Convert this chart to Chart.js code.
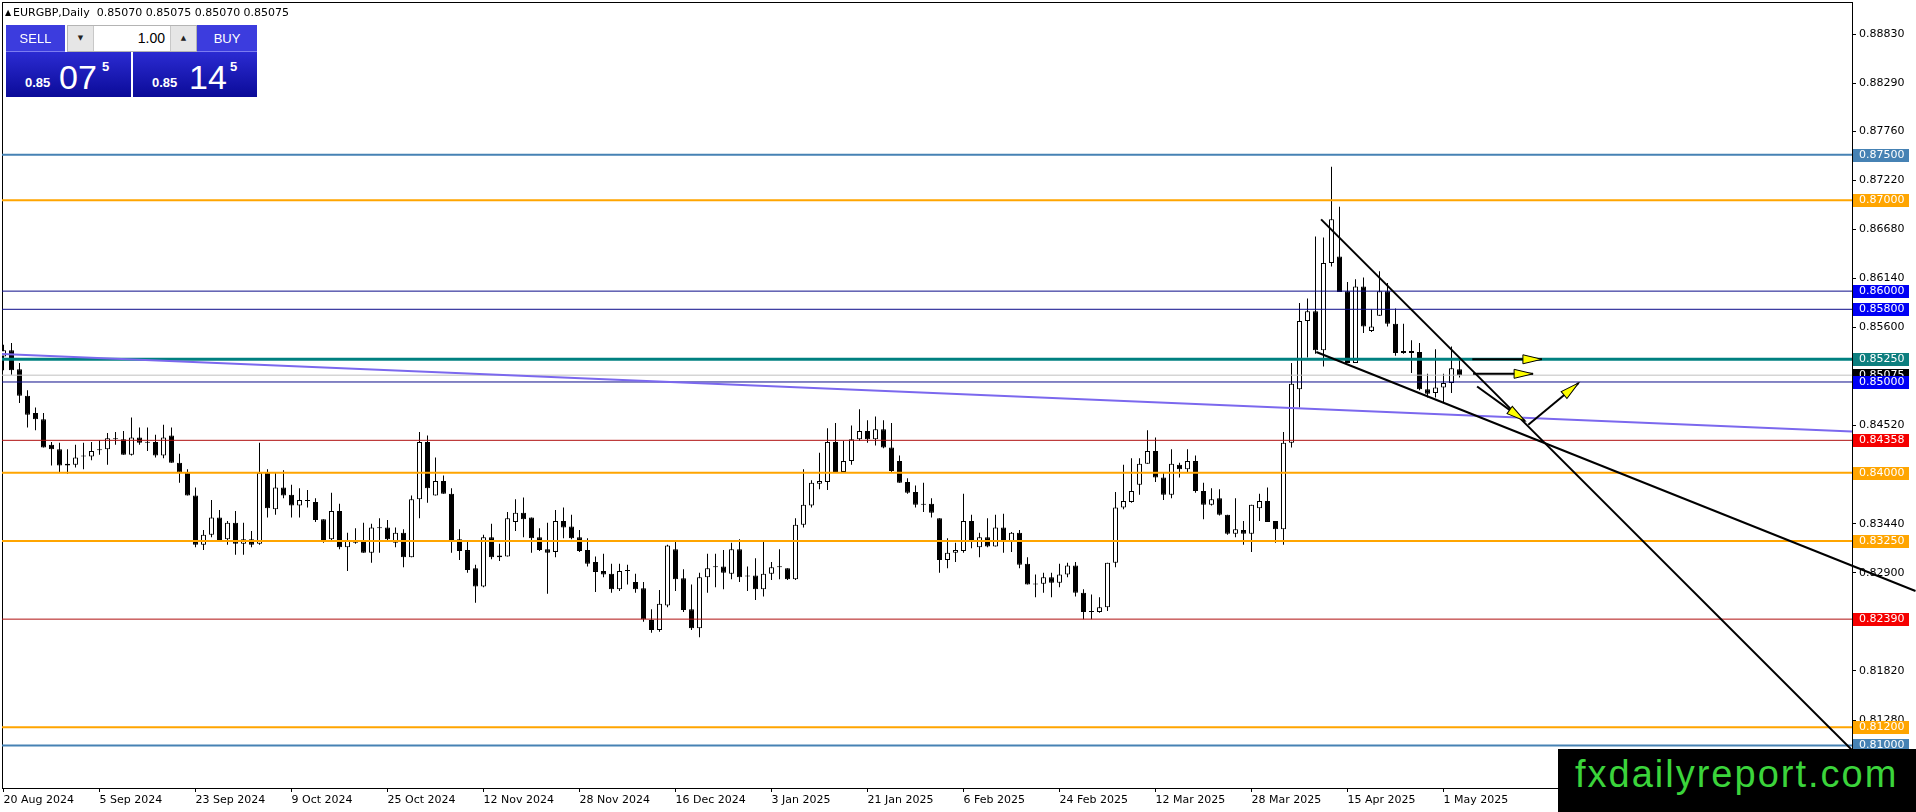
<!DOCTYPE html>
<html>
<head>
<meta charset="utf-8">
<title>EURGBP,Daily</title>
<script src="https://cdn.jsdelivr.net/npm/chart.js@4.4.1/dist/chart.umd.min.js"></script>
<style>
  html, body { margin: 0; padding: 0; background: #fff; }
  #wrap { position: relative; width: 1916px; height: 812px; overflow: hidden; background: #fff; }
  #wrap canvas { position: absolute; left: 0; top: 0; }
  .ov { position: absolute; z-index: 2; }
  #tri { left: 5px; top: 8px; font: 8px "DejaVu Sans", sans-serif; }
  #title { left: 13px; top: 6px; font: 11px "DejaVu Sans", sans-serif; line-height: 13px; white-space: pre; color: #000; }
  .hdr { top: 25px; height: 27px; line-height: 27px; background: #3c3cde; color: #fff; text-align: center;
         font: 13px "Liberation Sans", sans-serif; line-height: 27px; box-shadow: inset 0 -1px #7c7cf0; }
  #spin { left: 67px; top: 25px; width: 130px; height: 27px; box-sizing: border-box; background: #fff; border: 1px solid #b4b4b4; }
  .btn { position: absolute; top: 0; width: 25px; height: 25px; background: #e6e6e6; text-align: center;
         font: 7px "DejaVu Sans", sans-serif; line-height: 25px; color: #222; }
  #qty { position: absolute; right: 31px; top: 0; font: 14px "Liberation Sans", sans-serif; line-height: 25px; color: #000; }
  .price { top: 52px; height: 45px; background: linear-gradient(#2b2bd2, #0b0b98); color: #fff; font-family: "Liberation Sans", sans-serif; }
  .price span { position: absolute; white-space: pre; }
  .sm { top: 24px; font-size: 13px; line-height: 13px; font-weight: bold; }
  .big { top: 8px; font-size: 34px; line-height: 34px; }
  .sup { top: 8px; font-size: 13px; line-height: 13px; font-weight: bold; }
  #mark { left: 1558px; top: 749px; width: 358px; height: 63px; background: #000; }
  #mark span { position: absolute; left: 17px; top: 6px; font: 38px "Liberation Sans", sans-serif; line-height: 38px;
               letter-spacing: 2px; color: #3bd43b; white-space: pre; }
</style>
</head>
<body>
<div id="wrap">
  <canvas id="myChart"></canvas>
  <div class="ov" id="tri">▲</div>
  <div class="ov" id="title">EURGBP,Daily  0.85070 0.85075 0.85070 0.85075</div>
  <div class="ov hdr" style="left:6px;width:59px;">SELL</div>
  <div class="ov" id="spin">
    <div class="btn" style="left:0;border-right:1px solid #c8c8c8;">▼</div>
    <div id="qty">1.00</div>
    <div class="btn" style="right:0;border-left:1px solid #c8c8c8;">▲</div>
  </div>
  <div class="ov hdr" style="left:197px;width:60px;">BUY</div>
  <div class="ov price" style="left:6px;width:125px;">
    <span class="sm" style="left:19px;">0.85</span><span class="big" style="left:53px;">07</span><span class="sup" style="left:96px;">5</span>
  </div>
  <div class="ov price" style="left:133px;width:124px;">
    <span class="sm" style="left:19px;">0.85</span><span class="big" style="left:56px;">14</span><span class="sup" style="left:97px;">5</span>
  </div>
  <div class="ov" id="mark"><span>fxdailyreport.com</span></div>
</div>

<script>
// EURGBP daily candles, 20 Aug 2024 -> 5 May 2025 (index = bar number)
const opens = [
  0.8528, 0.8535, 0.8514, 0.8485, 0.8466, 0.8459, 0.8431, 0.8426, 0.8410, 0.8409,
  0.8419, 0.8418, 0.8426, 0.8426, 0.8438, 0.8437, 0.8420, 0.8439, 0.8434, 0.8434,
  0.8419, 0.8441, 0.8411, 0.8400, 0.8375, 0.8321, 0.8332, 0.8351, 0.8327, 0.8345,
  0.8322, 0.8327, 0.8322, 0.8400, 0.8360, 0.8384, 0.8376, 0.8364, 0.8370, 0.8368,
  0.8349, 0.8327, 0.8358, 0.8318, 0.8324, 0.8325, 0.8312, 0.8340, 0.8340, 0.8323,
  0.8334, 0.8307, 0.8371, 0.8434, 0.8375, 0.8391, 0.8377, 0.8327, 0.8315, 0.8295,
  0.8275, 0.8329, 0.8309, 0.8308, 0.8346, 0.8356, 0.8351, 0.8329, 0.8316, 0.8313,
  0.8347, 0.8341, 0.8329, 0.8315, 0.8302, 0.8292, 0.8289, 0.8272, 0.8293, 0.8280,
  0.8273, 0.8238, 0.8227, 0.8254, 0.8316, 0.8284, 0.8250, 0.8229, 0.8285, 0.8296,
  0.8297, 0.8289, 0.8316, 0.8287, 0.8287, 0.8272, 0.8289, 0.8296, 0.8295, 0.8283,
  0.8343, 0.8364, 0.8388, 0.8390, 0.8434, 0.8401, 0.8413, 0.8437, 0.8446, 0.8437,
  0.8448, 0.8428, 0.8413, 0.8390, 0.8379, 0.8366, 0.8366, 0.8350, 0.8304, 0.8312,
  0.8314, 0.8347, 0.8318, 0.8329, 0.8319, 0.8340, 0.8325, 0.8334, 0.8300, 0.8278,
  0.8278, 0.8285, 0.8279, 0.8288, 0.8298, 0.8268, 0.8248, 0.8247, 0.8252, 0.8301,
  0.8362, 0.8368, 0.8387, 0.8410, 0.8424, 0.8395, 0.8376, 0.8409, 0.8404, 0.8413,
  0.8380, 0.8365, 0.8372, 0.8354, 0.8333, 0.8337, 0.8333, 0.8361, 0.8369, 0.8347,
  0.8338, 0.8433, 0.8492, 0.8567, 0.8578, 0.8535, 0.8631, 0.8638, 0.8600, 0.8521,
  0.8605, 0.8556, 0.8573, 0.8600, 0.8564, 0.8534, 0.8534, 0.8533, 0.8492, 0.8488,
  0.8494, 0.8499, 0.8514
];
const highs = [
  0.8541, 0.8543, 0.8521, 0.8491, 0.8472, 0.8466, 0.8434, 0.8433, 0.8426, 0.8431,
  0.8433, 0.8434, 0.8436, 0.8444, 0.8445, 0.8446, 0.8461, 0.8450, 0.8450, 0.8442,
  0.8453, 0.8450, 0.8421, 0.8404, 0.8384, 0.8337, 0.8370, 0.8359, 0.8347, 0.8358,
  0.8345, 0.8336, 0.8433, 0.8404, 0.8400, 0.8403, 0.8387, 0.8383, 0.8381, 0.8372,
  0.8349, 0.8378, 0.8366, 0.8334, 0.8339, 0.8345, 0.8344, 0.8350, 0.8348, 0.8340,
  0.8338, 0.8375, 0.8445, 0.8441, 0.8417, 0.8397, 0.8383, 0.8338, 0.8324, 0.8299,
  0.8332, 0.8344, 0.8322, 0.8357, 0.8371, 0.8373, 0.8351, 0.8339, 0.8345, 0.8359,
  0.8362, 0.8354, 0.8337, 0.8328, 0.8308, 0.8311, 0.8300, 0.8300, 0.8299, 0.8289,
  0.8280, 0.8250, 0.8271, 0.8321, 0.8324, 0.8294, 0.8277, 0.8290, 0.8311, 0.8311,
  0.8315, 0.8323, 0.8327, 0.8297, 0.8306, 0.8324, 0.8302, 0.8316, 0.8295, 0.8350,
  0.8404, 0.8392, 0.8422, 0.8449, 0.8455, 0.8435, 0.8452, 0.8470, 0.8458, 0.8462,
  0.8458, 0.8455, 0.8419, 0.8394, 0.8386, 0.8389, 0.8372, 0.8350, 0.8328, 0.8323,
  0.8377, 0.8354, 0.8334, 0.8350, 0.8354, 0.8355, 0.8335, 0.8337, 0.8307, 0.8288,
  0.8290, 0.8290, 0.8300, 0.8301, 0.8302, 0.8272, 0.8266, 0.8263, 0.8301, 0.8379,
  0.8409, 0.8416, 0.8416, 0.8447, 0.8439, 0.8401, 0.8426, 0.8411, 0.8426, 0.8419,
  0.8389, 0.8383, 0.8382, 0.8354, 0.8372, 0.8347, 0.8365, 0.8377, 0.8384, 0.8347,
  0.8445, 0.8521, 0.8587, 0.8592, 0.8660, 0.8659, 0.8737, 0.8693, 0.8610, 0.8613,
  0.8615, 0.8580, 0.8622, 0.8609, 0.8581, 0.8564, 0.8546, 0.8543, 0.8509, 0.8536,
  0.8509, 0.8539, 0.8524
];
const lows = [
  0.8513, 0.8508, 0.8477, 0.8450, 0.8447, 0.8428, 0.8408, 0.8401, 0.8399, 0.8406,
  0.8404, 0.8414, 0.8420, 0.8409, 0.8431, 0.8420, 0.8419, 0.8431, 0.8424, 0.8417,
  0.8416, 0.8411, 0.8389, 0.8375, 0.8318, 0.8315, 0.8329, 0.8326, 0.8321, 0.8310,
  0.8310, 0.8318, 0.8321, 0.8351, 0.8354, 0.8372, 0.8351, 0.8351, 0.8362, 0.8346,
  0.8323, 0.8326, 0.8316, 0.8292, 0.8322, 0.8312, 0.8301, 0.8312, 0.8326, 0.8318,
  0.8296, 0.8307, 0.8350, 0.8367, 0.8375, 0.8377, 0.8312, 0.8304, 0.8290, 0.8257,
  0.8274, 0.8305, 0.8303, 0.8308, 0.8336, 0.8329, 0.8312, 0.8314, 0.8267, 0.8307,
  0.8328, 0.8327, 0.8313, 0.8297, 0.8269, 0.8285, 0.8268, 0.8270, 0.8277, 0.8268,
  0.8236, 0.8224, 0.8225, 0.8252, 0.8270, 0.8247, 0.8227, 0.8219, 0.8268, 0.8274,
  0.8272, 0.8283, 0.8280, 0.8270, 0.8260, 0.8264, 0.8282, 0.8283, 0.8282, 0.8282,
  0.8340, 0.8362, 0.8382, 0.8381, 0.8401, 0.8401, 0.8409, 0.8435, 0.8433, 0.8430,
  0.8427, 0.8401, 0.8389, 0.8377, 0.8362, 0.8357, 0.8351, 0.8290, 0.8295, 0.8302,
  0.8312, 0.8317, 0.8307, 0.8318, 0.8319, 0.8312, 0.8313, 0.8295, 0.8277, 0.8263,
  0.8268, 0.8263, 0.8274, 0.8285, 0.8264, 0.8239, 0.8239, 0.8246, 0.8248, 0.8296,
  0.8360, 0.8367, 0.8376, 0.8410, 0.8390, 0.8370, 0.8372, 0.8395, 0.8401, 0.8378,
  0.8349, 0.8364, 0.8353, 0.8332, 0.8329, 0.8321, 0.8313, 0.8347, 0.8346, 0.8323,
  0.8321, 0.8428, 0.8472, 0.8527, 0.8531, 0.8517, 0.8627, 0.8599, 0.8521, 0.8521,
  0.8554, 0.8555, 0.8573, 0.8561, 0.8529, 0.8531, 0.8510, 0.8491, 0.8483, 0.8483,
  0.8478, 0.8488, 0.8505
];
const closes = [
  0.8535, 0.8513, 0.8485, 0.8464, 0.8459, 0.8428, 0.8426, 0.8408, 0.8408, 0.8417,
  0.8418, 0.8424, 0.8425, 0.8438, 0.8437, 0.8420, 0.8439, 0.8433, 0.8433, 0.8419,
  0.8439, 0.8411, 0.8400, 0.8375, 0.8321, 0.8332, 0.8351, 0.8326, 0.8345, 0.8322,
  0.8327, 0.8321, 0.8400, 0.8361, 0.8384, 0.8375, 0.8364, 0.8370, 0.8369, 0.8348,
  0.8326, 0.8358, 0.8318, 0.8325, 0.8323, 0.8312, 0.8340, 0.8339, 0.8327, 0.8334,
  0.8307, 0.8371, 0.8434, 0.8383, 0.8391, 0.8377, 0.8326, 0.8314, 0.8293, 0.8275,
  0.8329, 0.8307, 0.8307, 0.8350, 0.8356, 0.8349, 0.8328, 0.8315, 0.8312, 0.8347,
  0.8340, 0.8328, 0.8314, 0.8300, 0.8291, 0.8288, 0.8272, 0.8292, 0.8292, 0.8272,
  0.8239, 0.8227, 0.8256, 0.8320, 0.8283, 0.8249, 0.8229, 0.8285, 0.8295, 0.8297,
  0.8290, 0.8316, 0.8285, 0.8286, 0.8272, 0.8289, 0.8296, 0.8297, 0.8283, 0.8343,
  0.8365, 0.8389, 0.8391, 0.8434, 0.8401, 0.8413, 0.8437, 0.8446, 0.8437, 0.8448,
  0.8428, 0.8402, 0.8389, 0.8378, 0.8365, 0.8365, 0.8356, 0.8304, 0.8312, 0.8315,
  0.8347, 0.8326, 0.8329, 0.8319, 0.8340, 0.8325, 0.8334, 0.8299, 0.8277, 0.8277,
  0.8285, 0.8279, 0.8288, 0.8298, 0.8268, 0.8247, 0.8247, 0.8252, 0.8301, 0.8362,
  0.8369, 0.8380, 0.8410, 0.8424, 0.8395, 0.8376, 0.8410, 0.8404, 0.8413, 0.8380,
  0.8365, 0.8371, 0.8354, 0.8333, 0.8338, 0.8333, 0.8365, 0.8369, 0.8346, 0.8338,
  0.8433, 0.8498, 0.8567, 0.8578, 0.8535, 0.8631, 0.8679, 0.8599, 0.8521, 0.8605,
  0.8561, 0.8561, 0.8600, 0.8564, 0.8532, 0.8532, 0.8532, 0.8492, 0.8487, 0.8494,
  0.8499, 0.8515, 0.85075
];

// date labels on the time axis (bar index of each label)
const tickIndex = [0, 12, 24, 36, 48, 60, 72, 84, 96, 108, 120, 132, 144, 156, 168, 180];
const tickLabels = [
  "20 Aug 2024", "5 Sep 2024", "23 Sep 2024", "9 Oct 2024", "25 Oct 2024", "12 Nov 2024",
  "28 Nov 2024", "16 Dec 2024", "3 Jan 2025", "21 Jan 2025", "6 Feb 2025", "24 Feb 2025",
  "12 Mar 2025", "28 Mar 2025", "15 Apr 2025", "1 May 2025"
];
const priceTicks = [0.8883, 0.8829, 0.8776, 0.8722, 0.8668, 0.8614, 0.8560, 0.8452, 0.8344, 0.8290, 0.8182, 0.8128];

// horizontal levels and the bid
const levelValues = [0.875, 0.870, 0.860, 0.858, 0.8525, 0.850, 0.84358, 0.840, 0.8325, 0.8239, 0.812, 0.810];
const bidPrice = 0.85075;

// trend lines [bar, price]
const wedgeUpper = [[164.7, 0.8679], [239, 0.8025]];
const wedgeLower = [[164.1, 0.8533], [239, 0.8270]];
const slopeLine = [[-0.5, 0.8531], [231.1, 0.84455]];
const arrows = [
  [[183.6, 0.8525], [192.3, 0.8525]],
  [[183.7, 0.8509], [191.2, 0.8509]],
  [[184.2, 0.8495], [190.2, 0.8457]],
  [[190.6, 0.8453], [196.9, 0.8499]]
];

// styles, same order as levelValues
const steel = "#4682b4", orange = "#ffa500", navy = "#0c0c8a", blue = "#0000f5", red = "#b01010", redTag = "#f50000";
const levelStyles = [
  { line: steel, tag: steel, width: 2 },
  { line: orange, tag: orange, width: 2 },
  { line: navy, tag: blue, width: 1 },
  { line: navy, tag: blue, width: 1 },
  { line: "#008080", tag: "#0e7f7f", width: 3 },
  { line: navy, tag: blue, width: 1 },
  { line: red, tag: redTag, width: 1 },
  { line: orange, tag: orange, width: 2 },
  { line: orange, tag: orange, width: 2 },
  { line: red, tag: redTag, width: 1 },
  { line: orange, tag: orange, width: 2 },
  { line: steel, tag: steel, width: 2 }
];

const bars = opens.map((o, i) => i);
const toXY = (pts) => pts.map(([x, y]) => ({ x, y }));
const flatLine = (v) => [{ x: -1, y: v }, { x: 240, y: v }];

const datasets = [
  {
    type: "bar",
    data: bars.map((i) => ({ x: i, y: [opens[i], closes[i]] })),
    backgroundColor: bars.map((i) => (closes[i] >= opens[i] ? "#ffffff" : "#000000")),
    borderColor: "#000",
    borderWidth: 1,
    borderSkipped: false,
    barThickness: 5,
    minBarLength: 1,
    inflateAmount: 0,
    grouped: false,
    order: 10
  },
  {
    type: "bar",
    data: bars.map((i) => ({ x: i, y: [lows[i], highs[i]] })),
    backgroundColor: "#000",
    borderWidth: 0,
    barThickness: 1,
    inflateAmount: 0,
    grouped: false,
    order: 11
  },
  {
    type: "line",
    data: flatLine(bidPrice),
    borderColor: "#c0c0c0",
    borderWidth: 1,
    pointRadius: 0,
    order: 6
  }
];

levelValues.forEach((v, k) => {
  datasets.push({
    type: "line",
    data: flatLine(v),
    borderColor: levelStyles[k].line,
    borderWidth: levelStyles[k].width,
    pointRadius: 0,
    order: 5
  });
});

datasets.push({ type: "line", data: toXY(slopeLine), borderColor: "#7b68ee", borderWidth: 2, pointRadius: 0, order: 4 });
datasets.push({ type: "line", data: toXY(wedgeUpper), borderColor: "#000", borderWidth: 2, pointRadius: 0, clip: false, order: 3 });
datasets.push({ type: "line", data: toXY(wedgeLower), borderColor: "#000", borderWidth: 2, pointRadius: 0, clip: false, order: 3 });
arrows.forEach((a) => {
  datasets.push({ type: "line", data: toXY(a), borderColor: "#000", borderWidth: 2, pointRadius: 0, clip: false, order: 2 });
});

// black frame round the plot
const frame = {
  id: "frame",
  beforeDatasetsDraw(chart) {
    const { ctx, chartArea: a } = chart;
    ctx.save();
    ctx.strokeStyle = "#000";
    ctx.lineWidth = 1;
    ctx.strokeRect(a.left + 0.5, a.top + 0.5, a.right - a.left, a.bottom - a.top);
    ctx.restore();
  }
};

// yellow heads at the end of the arrow lines
const arrowHeads = {
  id: "arrowHeads",
  afterDatasetsDraw(chart) {
    const { ctx, scales: { x, y } } = chart;
    arrows.forEach(([from, to]) => {
      const x0 = x.getPixelForValue(from[0]), y0 = y.getPixelForValue(from[1]);
      const x1 = x.getPixelForValue(to[0]), y1 = y.getPixelForValue(to[1]);
      ctx.save();
      ctx.translate(x1, y1);
      ctx.rotate(Math.atan2(y1 - y0, x1 - x0));
      ctx.beginPath();
      ctx.moveTo(0, 0);
      ctx.lineTo(-19, -4.5);
      ctx.lineTo(-19, 4.5);
      ctx.closePath();
      ctx.fillStyle = "#ffff00";
      ctx.fill();
      ctx.strokeStyle = "#000";
      ctx.lineWidth = 1;
      ctx.stroke();
      ctx.restore();
    });
  }
};

// coloured price tags on the right axis
const levelTags = {
  id: "levelTags",
  afterDraw(chart) {
    const { ctx, scales: { y }, chartArea } = chart;
    ctx.save();
    ctx.font = "11px 'DejaVu Sans'";
    ctx.textBaseline = "middle";
    const tag = (v, bg) => {
      const py = Math.round(y.getPixelForValue(v));
      ctx.fillStyle = bg;
      ctx.fillRect(chartArea.right + 1, py - 6, 56, 13);
      ctx.fillStyle = "#fff";
      ctx.fillText(v.toFixed(5), chartArea.right + 7, py + 0.5);
    };
    tag(bidPrice, "#000");
    levelValues.forEach((v, k) => tag(v, levelStyles[k].tag));
    ctx.restore();
  }
};

Chart.defaults.font.family = "'DejaVu Sans', sans-serif";
Chart.defaults.font.size = 11;
Chart.defaults.color = "#000";

const ctx = document.getElementById("myChart");

new Chart(ctx, {
  type: "bar",
  data: { datasets },
  plugins: [frame, arrowHeads, levelTags],
  options: {
    responsive: true,
    maintainAspectRatio: false,
    animation: false,
    events: [],
    layout: { padding: { left: 2, top: 2, right: 0, bottom: 0 } },
    plugins: { legend: { display: false }, tooltip: { enabled: false } },
    scales: {
      x: {
        type: "linear",
        offset: false,
        min: -0.1875,
        max: 231.0625,
        afterBuildTicks: (s) => { s.ticks = tickIndex.map((v) => ({ value: v })); },
        afterFit: (s) => { s.height = 24; s.paddingLeft = 0; s.paddingRight = 0; },
        ticks: {
          autoSkip: false,
          maxRotation: 0,
          align: "start",
          padding: 2,
          color: "#000",
          callback: (v, k) => tickLabels[k]
        },
        grid: { offset: false, drawOnChartArea: false, tickLength: 4, color: "#000" },
        border: { color: "#000" }
      },
      y: {
        position: "right",
        min: 0.8053161,
        max: 0.8918219,
        afterBuildTicks: (s) => { s.ticks = priceTicks.map((v) => ({ value: v })); },
        afterFit: (s) => { s.width = 64; s.paddingTop = 0; s.paddingBottom = 0; },
        ticks: {
          autoSkip: false,
          padding: 3,
          color: "#000",
          callback: (v) => Number(v).toFixed(5)
        },
        grid: { drawOnChartArea: false, tickLength: 4, color: "#000" },
        border: { color: "#000" }
      }
    }
  }
});
</script>
</body>
</html>
